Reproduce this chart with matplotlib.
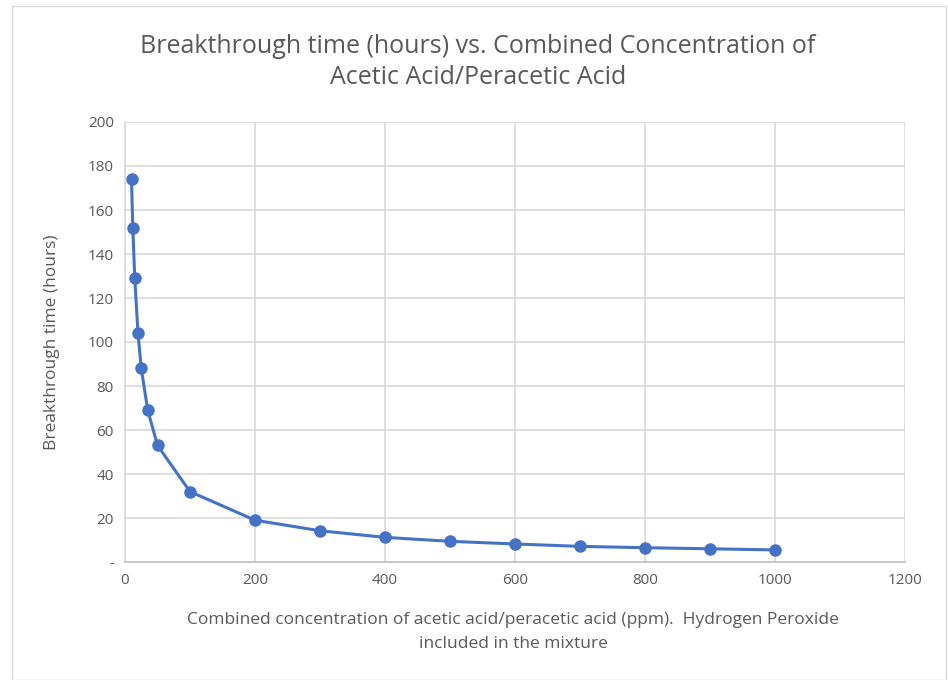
import matplotlib
matplotlib.use("Agg")
import matplotlib.pyplot as plt
from matplotlib.patches import Rectangle

conc_ppm = [10, 12, 15, 20, 25, 35, 50, 100, 200, 300, 400, 500, 600, 700, 800, 900, 1000]
breakthrough_hours = [174, 152, 129, 104, 88, 69, 53, 32, 19, 14.2, 11.2, 9.4, 8.2, 7.1, 6.5, 6.0, 5.5]
x_ticks = [0, 200, 400, 600, 800, 1000, 1200]
y_ticks = [0, 20, 40, 60, 80, 100, 120, 140, 160, 180, 200]
y_tick_labels = ["-", "20", "40", "60", "80", "100", "120", "140", "160", "180", "200"]

plt.rcParams['font.family'] = ['Open Sans', 'DejaVu Sans']

W, H = 948, 680
fig = plt.figure(figsize=(W / 100, H / 100), dpi=100)
fig.patch.set_facecolor("white")
fig.patches.append(Rectangle((12 / W, 0), (W - 14) / W, (H - 6) / H, transform=fig.transFigure,
                             fill=False, edgecolor="#d9d9d9", linewidth=1))

ax = fig.add_axes([125 / W, 1 - 562 / H, (905 - 125) / W, (562 - 122) / H])
ax.plot(conc_ppm, breakthrough_hours, color="#4472C4", linewidth=2.2, marker="o",
        markersize=8, markerfacecolor="#4472C4", markeredgecolor="#4472C4", zorder=3)
ax.set_xlim(0, 1200)
ax.set_ylim(0, 200)
ax.set_xticks(x_ticks)
ax.set_yticks(y_ticks)
ax.set_yticklabels(y_tick_labels)
ax.grid(True, color="#d9d9d9", linewidth=1.2)
ax.set_axisbelow(True)
for s in ["top", "right"]:
    ax.spines[s].set_visible(False)
ax.spines["left"].set_color("#d9d9d9")
ax.spines["bottom"].set_color("#bfbfbf")
ax.spines["left"].set_linewidth(1.2)
ax.spines["bottom"].set_linewidth(1.2)
ax.tick_params(axis="both", length=0, labelsize=11, labelcolor="#595959", pad=8)

fig.text(478 / W, 1 - 62 / H, "Breakthrough time (hours) vs. Combined Concentration of\nAcetic Acid/Peracetic Acid",
         ha="center", va="center", fontsize=18, color="#595959", linespacing=1.32)
fig.text(52 / W, 1 - 342 / H, "Breakthrough time (hours)", rotation=90, ha="center", va="center",
         fontsize=12.5, color="#595959")
fig.text(513 / W, 1 - 632 / H,
         "Combined concentration of acetic acid/peracetic acid (ppm).  Hydrogen Peroxide\nincluded in the mixture",
         ha="center", va="center", fontsize=12.5, color="#595959", linespacing=1.6)

fig.savefig("out.png", dpi=100)
